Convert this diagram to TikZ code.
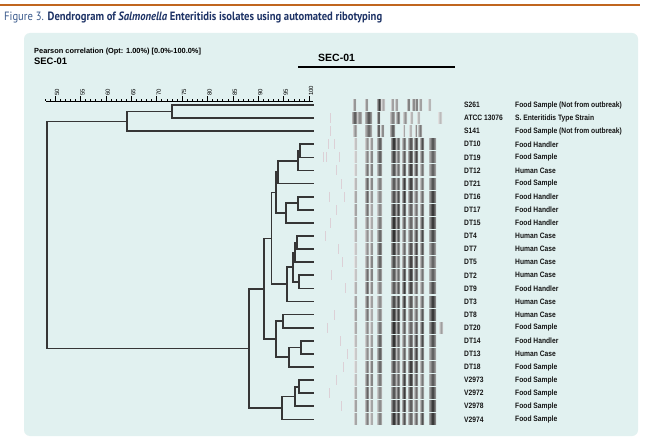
\documentclass[tikz,border=0pt]{standalone}
\usepackage{fontspec}
\setmainfont{Liberation Sans}
\newfontfamily\titlefont{PT Sans}
\definecolor{panel}{HTML}{E1F1F0}
\definecolor{rulec}{HTML}{C0661F}
\definecolor{navy}{HTML}{1E3366}
\definecolor{figblue}{HTML}{3A5A8C}
\definecolor{treec}{HTML}{363636}
\definecolor{pinkband}{HTML}{DCD0D6}
\tikzset{
  treeline/.style={draw=treec, line width=1.7pt, line cap=rect},
  idlab/.style={anchor=west, inner sep=0pt, font=\bfseries\fontsize{7.8}{9}\selectfont, text=black!92},
  desclab/.style={anchor=west, inner sep=0pt, font=\bfseries\fontsize{7.8}{9}\selectfont, text=black!92},
  scalelab/.style={anchor=west, rotate=90, inner sep=0pt, font=\fontsize{6}{7}\selectfont},
}
\begin{document}
\begin{tikzpicture}[x=1pt,y=-1pt]
\useasboundingbox (0,0) rectangle (651,441);
\fill[white] (0,0) rectangle (651,441);
% top rule and title
\draw[rulec, line width=2pt] (0,5) -- (640,5);
\node[anchor=base west, inner sep=0pt] (title) at (4,20.5) {\resizebox{378pt}{\height}{\titlefont\fontsize{12}{14}\selectfont\color{figblue}Figure 3. \textbf{\color{navy}Dendrogram of \textit{Salmonella} Enteritidis isolates using automated ribotyping}}};
% panel
\fill[panel, rounded corners=6pt] (24,33) rectangle (638,436);
% header texts
\node[anchor=base west, inner sep=0pt, font=\bfseries\fontsize{7.4}{8}\selectfont] (pearson) at (34,53.3) {Pearson correlation (Opt: 1.00\%) [0.0\%-100.0\%]};
\node[anchor=base west, inner sep=0pt, font=\bfseries\fontsize{9.4}{10}\selectfont] (secleft) at (34,64.5) {SEC-01};
\node[anchor=base west, inner sep=0pt, font=\bfseries\fontsize{10.5}{12}\selectfont] (secright) at (318,61.5) {SEC-01};
\coordinate (ulA) at (298,67);
\coordinate (ulB) at (455,67);
\draw[black, line width=1.2pt] (ulA) -- (ulB);
% scale
\coordinate (axA) at (46,101);
\coordinate (axB) at (313,101);
\draw[black, line width=0.6pt] (axA) -- (axB);
\foreach \v in {48,...,100}{
  \pgfmathsetmacro{\xx}{55+(\v-50)*5.08}
  \draw[black, line width=0.4pt] (\xx,101) -- (\xx,99.2);
}
\foreach \v in {50,55,...,100}{
  \pgfmathsetmacro{\xx}{55+(\v-50)*5.08}
  \draw[black, line width=0.6pt] (\xx,101) -- (\xx,96.5);
  \node[scalelab] (s\v) at (\xx+2.1,96) {\v};
}
% gel bands: top three rows
\foreach \r/\blist in {
 0/{353/3/50,365/3/50,377/4/80,381/4/35,391/3/45,395/3/45,407/3/60,412/3/55,415/3/60,419/3/45,428/3/35},
 1/{352/5/70,357/5/50,365/7/70,377/3/75,390/5/55,396/4/60,403/4/45,410/3/35,417/3/35,438/4/28},
 2/{353/4/45,365/7/62,377/3/75,381/3/55,390/5/70,403/2/35,409/3/35,415/2/45,418/4/55}}{
  \pgfmathsetmacro{\yy}{105+13.1*\r}
  \foreach \bx/\bw/\bd in \blist{
    \pgfmathtruncatemacro{\de}{\bd*0.45}
    \shade[left color=black!\de, right color=black!\de, middle color=black!\bd] (\bx,\yy-5.5) rectangle ++(\bw,11);
  }
}
% gel bands: DT and V rows
\foreach \r in {3,...,24}{
  \pgfmathsetmacro{\yy}{105+13.1*\r}
  \foreach \bx/\bw/\bd [count=\c] in {354/3/35,365/4/55,370/3/50,377/5/60,391/5/82,396/4/68,402/4/72,408/5/75,414/4/68,420/4/66,429/7/75}{
    \pgfmathtruncatemacro{\dd}{max(15,min(92,\bd+10*sin(\r*47+\c*71)))}
    \pgfmathtruncatemacro{\de}{\dd*0.45}
    \shade[left color=black!\de, right color=black!\de, middle color=black!\dd] (\bx,\yy-5.5) rectangle ++(\bw,11);
  }
}
\shade[left color=black!15, right color=black!15, middle color=black!40] (439,105+13.1*17-5.5) rectangle ++(4,11);
% faint bands
\foreach \r/\bx in {1/330,2/330,3/328,3/334,4/323,4/326,4/339,5/336,6/341,7/329,7/344,8/336,9/330,10/325,11/338,12/342,13/331,14/345,16/334,17/327,18/340,19/347,20/343,21/336,22/329,23/341}{
  \pgfmathsetmacro{\yy}{105+13.1*\r}
  \fill[pinkband] (\bx,\yy-5) rectangle ++(1.4,10);
}
% leaves
\foreach \r in {0,...,24}{
  \coordinate (L\r) at (313,105+13.1*\r);
}
% internal nodes
\coordinate (nA) at (172,111.55);
\coordinate (nB) at (127,121.375);
\coordinate (n1) at (300,150.85);
\coordinate (n2) at (298.3,160.675);
\coordinate (n3) at (277.7,172.14);
\coordinate (n4) at (297.7,203.25);
\coordinate (n5) at (286,213.075);
\coordinate (n6) at (275.7,192.61);
\coordinate (n7) at (296.7,242.55);
\coordinate (n8) at (295,252.375);
\coordinate (n9) at (299.3,281.85);
\coordinate (n10) at (293.3,267.11);
\coordinate (n11) at (286.7,284.31);
\coordinate (n12) at (271.5,238.46);
\coordinate (n13) at (283.3,321.15);
\coordinate (n14) at (300.7,347.35);
\coordinate (n15) at (289.3,357.18);
\coordinate (n16) at (275.7,339.16);
\coordinate (n17) at (264.3,288.81);
\coordinate (n18) at (299.3,386.65);
\coordinate (n19) at (295,396.48);
\coordinate (n20) at (281.7,407.94);
\coordinate (n21) at (249.3,348.37);
\coordinate (root) at (47.3,234.87);
\foreach \p/\a/\b in {nA/L0/L1, nB/nA/L2, n1/L3/L4, n2/n1/L5, n3/n2/L6, n4/L7/L8, n5/n4/L9, n6/n3/n5,
  n7/L10/L11, n8/n7/L12, n9/L13/L14, n10/n8/n9, n11/n10/L15, n12/n6/n11,
  n13/L16/L17, n14/L18/L19, n15/n14/L20, n16/n13/n15, n17/n12/n16,
  n18/L21/L22, n19/n18/L23, n20/n19/L24, n21/n17/n20, root/nB/n21}{
  \draw[treeline] (\p) |- (\a);
  \draw[treeline] (\p) |- (\b);
}
% labels
\foreach \r/\id/\desc in {
 0/S261/Food Sample (Not from outbreak),
 1/ATCC 13076/S. Enteritidis Type Strain,
 2/S141/Food Sample (Not from outbreak),
 3/DT10/Food Handler,
 4/DT19/Food Sample,
 5/DT12/Human Case,
 6/DT21/Food Sample,
 7/DT16/Food Handler,
 8/DT17/Food Handler,
 9/DT15/Food Handler,
 10/DT4/Human Case,
 11/DT7/Human Case,
 12/DT5/Human Case,
 13/DT2/Human Case,
 14/DT9/Food Handler,
 15/DT3/Human Case,
 16/DT8/Human Case,
 17/DT20/Food Sample,
 18/DT14/Food Handler,
 19/DT13/Human Case,
 20/DT18/Food Sample,
 21/V2973/Food Sample,
 22/V2972/Food Sample,
 23/V2978/Food Sample,
 24/V2974/Food Sample}{
  \node[idlab] (id\r) at (464,105+13.1*\r) {\scalebox{0.86}[1]{\id}};
  \node[desclab] (desc\r) at (515,105+13.1*\r) {\scalebox{0.86}[1]{\desc}};
}
\end{tikzpicture}
\end{document}
